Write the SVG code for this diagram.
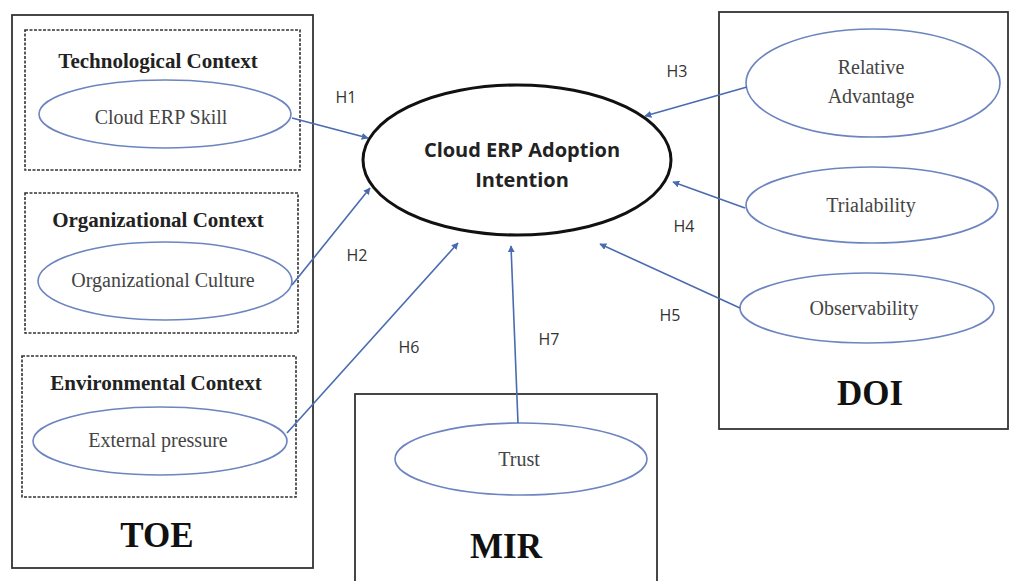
<svg xmlns="http://www.w3.org/2000/svg" width="1011" height="581" viewBox="0 0 1011 581">
<defs>
<marker id="arr" viewBox="0 0 10 10" refX="9" refY="5" markerWidth="7" markerHeight="7" markerUnits="userSpaceOnUse" orient="auto">
<path d="M0,0 L10,5 L0,10 z" fill="#4a6bb0"/>
</marker>
<style>
.box{fill:none;stroke:#333;stroke-width:1.8}
.dash{fill:none;stroke:#333;stroke-width:1.6;stroke-dasharray:3 1.5}
.ell{fill:#fff;stroke:#6c84c0;stroke-width:1.6}
.et{font-family:"Liberation Serif",serif;font-size:20px;fill:#444;text-anchor:middle}
.ttl{font-family:"Liberation Serif",serif;font-size:21px;font-weight:bold;fill:#222;text-anchor:middle}
.big{font-family:"Liberation Serif",serif;font-size:35px;font-weight:bold;fill:#111;text-anchor:middle}
.h{font-family:"Open Sans","Liberation Sans",sans-serif;font-size:16px;fill:#333;text-anchor:middle}
.con{stroke:#4a6bb0;stroke-width:1.6;fill:none;marker-end:url(#arr)}
.ct{font-family:"Open Sans","Liberation Sans",sans-serif;font-size:20px;font-weight:bold;fill:#222;text-anchor:middle}
</style>
</defs>
<rect width="1011" height="581" fill="#fff"/>
<g id="toe">
<rect class="box" x="12" y="15" width="301" height="553"/>
<text class="big" x="157" y="547">TOE</text>
</g>
<g id="tech">
<rect class="dash" x="25" y="30" width="275" height="140"/>
<text class="ttl" x="158" y="68">Technological Context</text>
</g>
<g id="cloud-erp-skill">
<ellipse class="ell" cx="165" cy="114" rx="126" ry="34"/>
<text class="et" x="161" y="124">Cloud ERP Skill</text>
</g>
<g id="org">
<rect class="dash" x="25" y="193" width="273" height="140"/>
<text class="ttl" x="158" y="227">Organizational Context</text>
</g>
<g id="org-culture">
<ellipse class="ell" cx="165" cy="281" rx="127" ry="39"/>
<text class="et" x="163" y="287">Organizational Culture</text>
</g>
<g id="env">
<rect class="dash" x="22" y="356" width="274" height="141"/>
<text class="ttl" x="156" y="390">Environmental Context</text>
</g>
<g id="external-pressure">
<ellipse class="ell" cx="160" cy="441" rx="127" ry="34"/>
<text class="et" x="158" y="447">External pressure</text>
</g>
<g id="doi">
<rect class="box" x="719" y="12" width="289" height="417"/>
<text class="big" x="870" y="405">DOI</text>
</g>
<g id="relative-advantage">
<ellipse class="ell" cx="873" cy="83" rx="127" ry="54"/>
<text class="et" x="871" y="74">Relative</text>
<text class="et" x="871" y="103">Advantage</text>
</g>
<g id="trialability">
<ellipse class="ell" cx="872" cy="205" rx="126" ry="38"/>
<text class="et" x="871" y="212">Trialability</text>
</g>
<g id="observability">
<ellipse class="ell" cx="867" cy="308" rx="127" ry="35"/>
<text class="et" x="864" y="315">Observability</text>
</g>
<g id="mir">
<rect class="box" x="355" y="394" width="302" height="190"/>
<text class="big" x="506" y="558">MIR</text>
</g>
<g id="trust">
<ellipse class="ell" cx="521" cy="459" rx="126" ry="36"/>
<text class="et" x="519" y="466">Trust</text>
</g>
<g id="cloud-erp-adoption">
<ellipse cx="517" cy="160" rx="154" ry="75" fill="#fff" stroke="#111" stroke-width="3"/>
<text class="ct" x="522" y="157">Cloud ERP Adoption</text>
<text class="ct" x="522" y="187">Intention</text>
</g>
<g id="connectors">
<line class="con" x1="292" y1="118" x2="368" y2="138"/>
<line class="con" x1="292" y1="285" x2="370" y2="188"/>
<line class="con" x1="287" y1="433" x2="458" y2="243"/>
<line class="con" x1="518" y1="423" x2="511" y2="246"/>
<line class="con" x1="740" y1="308" x2="600" y2="244"/>
<line class="con" x1="745" y1="208" x2="673" y2="182"/>
<line class="con" x1="747" y1="87" x2="645" y2="116"/>
<text class="h" x="346" y="103">H1</text>
<text class="h" x="357" y="261">H2</text>
<text class="h" x="677" y="77">H3</text>
<text class="h" x="684" y="232">H4</text>
<text class="h" x="670" y="321">H5</text>
<text class="h" x="409" y="353">H6</text>
<text class="h" x="549" y="345">H7</text>
</g>
</svg>
